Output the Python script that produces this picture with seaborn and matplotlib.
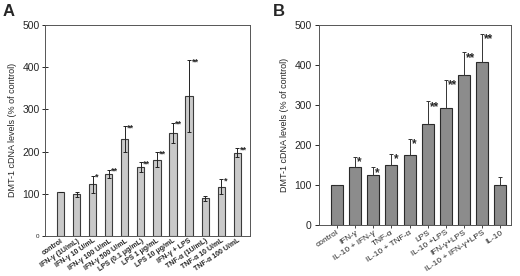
import numpy as np
import pandas as pd
import matplotlib
matplotlib.use("Agg")
import matplotlib.pyplot as plt
import seaborn as sns

# %% data ---------------------------------------------------------------
labels_a = ["control", "IFN-γ (1U/mL)", "IFN-γ 10 U/mL", "IFN-γ 100 U/mL",
            "IFN-γ 500 U/mL", "LPS (0.1 μg/mL)", "LPS 1 μg/mL", "LPS 10 μg/mL",
            "IFN-γ + LPS", "TNF-α (1U/mL)", "TNF-α 10 U/mL", "TNF-α 100 U/mL"]
values_a = [104, 99, 122, 147, 229, 163, 181, 244, 332, 89, 117, 197]
err_a = [0, 6, 21, 10, 31, 12, 17, 24, 85, 5, 17, 11]
stars_a = ["", "", "*", "**", "**", "**", "**", "**", "**", "", "*", "**"]

labels_b = ["control", "IFN-γ", "IL-10 + IFN-γ", "TNF-α", "IL-10 + TNF-α",
            "LPS", "IL-10 +LPS", "IFN-γ+LPS", "IL-10 + IFN-γ+LPS", "IL-10"]
values_b = [100, 145, 125, 150, 174, 251, 293, 374, 408, 100]
err_b = [0, 25, 19, 28, 41, 58, 70, 57, 70, 20]
stars_b = ["", "*", "*", "*", "*", "**", "**", "**", "**", ""]

ylabel = "DMT-1 cDNA levels (% of control)"

sns.set_theme(style="ticks")
plt.rcParams["font.family"] = ["Liberation Sans", "DejaVu Sans"]

fig = plt.figure(figsize=(5.2, 2.76), dpi=100)
axA = fig.add_axes([0.087, 0.145, 0.394, 0.765])
axB = fig.add_axes([0.613, 0.185, 0.370, 0.725])

dfA = pd.DataFrame({"cond": labels_a, "val": values_a})
dfB = pd.DataFrame({"cond": labels_b, "val": values_b})

# %% panel A ------------------------------------------------------------
sns.barplot(data=dfA, x="cond", y="val", ax=axA, color="#c9c9c9",
            edgecolor="#3a3a3a", linewidth=0.8, width=0.45, saturation=1)
xa = np.arange(len(labels_a))
axA.errorbar(xa, values_a, yerr=err_a, fmt="none", ecolor="#222222",
             elinewidth=0.7, capsize=1.2, capthick=0.7)
for x, v, e, s in zip(xa, values_a, err_a, stars_a):
    if s:
        axA.text(x + 0.15, v + e - 4, s, fontsize=6.5, fontweight="bold",
                 ha="left", va="center")
axA.set_xlim(-0.95, len(labels_a) - 0.2)
axA.set_ylim(0, 500)
axA.set_yticks([0, 100, 200, 300, 400, 500])
axA.set_yticklabels(["0", "100", "200", "300", "400", "500"], fontsize=7.5)
axA.get_yticklabels()[0].set_fontsize(4.5)
axA.tick_params(axis="y", direction="inout", length=4, width=0.7, pad=2)
axA.tick_params(axis="x", length=0, pad=1)
axA.set_xticks(xa)
axA.set_xticklabels(labels_a, rotation=34, ha="right", rotation_mode="anchor",
                    fontsize=5.0, fontweight="bold")
axA.set_xlabel("")
axA.set_ylabel(ylabel, fontsize=6.5, labelpad=4)
for sp in axA.spines.values():
    sp.set_linewidth(0.7)
    sp.set_color("#555555")

# %% panel B ------------------------------------------------------------
sns.barplot(data=dfB, x="cond", y="val", ax=axB, color="#8c8c8c",
            edgecolor="#2a2a2a", linewidth=0.8, width=0.66, saturation=1)
xb = np.arange(len(labels_b))
axB.errorbar(xb, values_b, yerr=[np.zeros(len(err_b)), err_b], fmt="none",
             ecolor="#333333", elinewidth=0.7, capsize=1.2, capthick=0.7)
for x, v, e, s in zip(xb, values_b, err_b, stars_b):
    if s:
        axB.text(x + 0.12, v + e - 14, s, fontsize=8.5, fontweight="bold",
                 ha="left", va="center")
axB.set_xlim(-1.0, len(labels_b) - 0.4)
axB.set_ylim(0, 500)
axB.set_yticks([0, 100, 200, 300, 400, 500])
axB.set_yticklabels(["0", "100", "200", "300", "400", "500"], fontsize=7.5)
axB.tick_params(axis="y", direction="out", length=3, width=0.7, pad=2)
axB.tick_params(axis="x", direction="out", length=2, width=0.6, pad=1)
axB.set_xticks(xb)
axB.set_xticklabels(labels_b, rotation=33, ha="right", rotation_mode="anchor",
                    fontsize=6.0)
axB.set_xlabel("")
axB.set_ylabel(ylabel, fontsize=6.5, labelpad=4)
for sp in axB.spines.values():
    sp.set_linewidth(0.7)
    sp.set_color("#555555")

fig.text(0.005, 0.985, "A", fontsize=12, fontweight="bold", va="top")
fig.text(0.525, 0.985, "B", fontsize=12, fontweight="bold", va="top")

fig.savefig("out.png", dpi=100)
